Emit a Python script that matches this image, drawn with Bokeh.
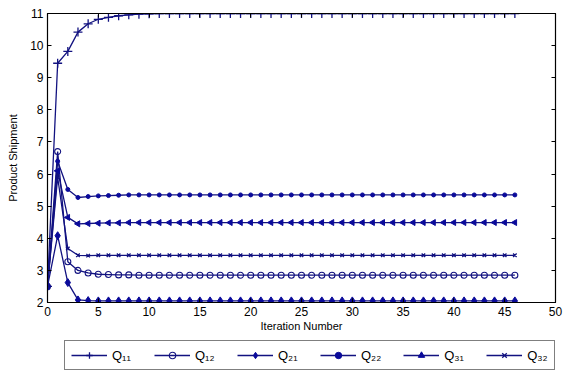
from bokeh.plotting import figure
from bokeh.models import Legend, LegendItem, LinearAxis, FixedTicker, Range1d
from bokeh.layouts import column
from bokeh.embed import file_html
from bokeh.resources import INLINE
import math

iterations = list(range(47))
q11 = [2.5, 9.45, 9.82, 10.42, 10.68, 10.82, 10.88, 10.93, 10.96, 10.98, 10.99,
       11.0, 11.0, 11.0, 11.0, 11.0, 11.0, 11.0, 11.0, 11.0, 11.0, 11.0, 11.0, 11.0,
       11.0, 11.0, 11.0, 11.0, 11.0, 11.0, 11.0, 11.0, 11.0, 11.0, 11.0, 11.0, 11.0,
       11.0, 11.0, 11.0, 11.0, 11.0, 11.0, 11.0, 11.0, 11.0, 11.0]
q12 = [2.5, 6.7, 3.27, 3.0, 2.92, 2.88, 2.87, 2.86, 2.86, 2.85, 2.85,
       2.85, 2.85, 2.85, 2.85, 2.85, 2.85, 2.85, 2.85, 2.85, 2.85, 2.85, 2.85, 2.85,
       2.85, 2.85, 2.85, 2.85, 2.85, 2.85, 2.85, 2.85, 2.85, 2.85, 2.85, 2.85, 2.85,
       2.85, 2.85, 2.85, 2.85, 2.85, 2.85, 2.85, 2.85, 2.85, 2.85]
q21 = [2.5, 4.08, 2.62, 2.08, 2.06, 2.05, 2.05, 2.05, 2.05, 2.05, 2.05,
       2.05, 2.05, 2.05, 2.05, 2.05, 2.05, 2.05, 2.05, 2.05, 2.05, 2.05, 2.05, 2.05,
       2.05, 2.05, 2.05, 2.05, 2.05, 2.05, 2.05, 2.05, 2.05, 2.05, 2.05, 2.05, 2.05,
       2.05, 2.05, 2.05, 2.05, 2.05, 2.05, 2.05, 2.05, 2.05, 2.05]
q22 = [2.5, 6.4, 5.52, 5.27, 5.3, 5.32, 5.33, 5.34, 5.35, 5.35, 5.35,
       5.35, 5.35, 5.35, 5.35, 5.35, 5.35, 5.35, 5.35, 5.35, 5.35, 5.35, 5.35, 5.35,
       5.35, 5.35, 5.35, 5.35, 5.35, 5.35, 5.35, 5.35, 5.35, 5.35, 5.35, 5.35, 5.35,
       5.35, 5.35, 5.35, 5.35, 5.35, 5.35, 5.35, 5.35, 5.35, 5.35]
q31 = [2.5, 6.1, 4.65, 4.45, 4.46, 4.47, 4.48, 4.48, 4.49, 4.49, 4.49,
       4.49, 4.49, 4.49, 4.49, 4.49, 4.49, 4.49, 4.49, 4.49, 4.49, 4.49, 4.49, 4.49,
       4.49, 4.49, 4.49, 4.49, 4.49, 4.49, 4.49, 4.49, 4.49, 4.49, 4.49, 4.49, 4.49,
       4.49, 4.49, 4.49, 4.49, 4.49, 4.49, 4.49, 4.49, 4.49, 4.49]
q32 = [2.5, 5.9, 3.68, 3.47, 3.46, 3.47, 3.47, 3.47, 3.47, 3.47, 3.47,
       3.47, 3.47, 3.47, 3.47, 3.47, 3.47, 3.47, 3.47, 3.47, 3.47, 3.47, 3.47, 3.47,
       3.47, 3.47, 3.47, 3.47, 3.47, 3.47, 3.47, 3.47, 3.47, 3.47, 3.47, 3.47, 3.47,
       3.47, 3.47, 3.47, 3.47, 3.47, 3.47, 3.47, 3.47, 3.47, 3.47]
labels = ["Q\u2081\u2081", "Q\u2081\u2082", "Q\u2082\u2081", "Q\u2082\u2082", "Q\u2083\u2081", "Q\u2083\u2082"]
x_ticks = [0, 5, 10, 15, 20, 25, 30, 35, 40, 45, 50]
y_ticks = [2, 3, 4, 5, 6, 7, 8, 9, 10, 11]

LINE = "#121280"
MARK = "#0a0a9a"
FONT = "Liberation Sans"

p = figure(width=563, height=340, output_backend="svg", toolbar_location=None,
           x_range=Range1d(0, 50), y_range=Range1d(2, 11),
           min_border_left=47, min_border_right=8, min_border_top=13, min_border_bottom=38,
           x_axis_label="Iteration Number", y_axis_label="Product Shipment")
p.xgrid.visible = False
p.ygrid.visible = False
p.outline_line_color = "black"
p.outline_line_width = 1.2
p.background_fill_color = "white"
p.border_fill_color = "white"

p.xaxis.ticker = FixedTicker(ticks=x_ticks)
p.yaxis.ticker = FixedTicker(ticks=y_ticks)
for ax in (p.xaxis[0], p.yaxis[0]):
    ax.major_tick_in = 4
    ax.major_tick_out = 0
    ax.minor_tick_line_color = None
    ax.axis_line_color = "black"
    ax.major_tick_line_color = "black"
    ax.major_label_text_font = FONT
    ax.major_label_text_font_size = "12px"
    ax.major_label_text_color = "black"
    ax.axis_label_text_font = FONT
    ax.axis_label_text_font_size = "11px"
    ax.axis_label_text_font_style = "normal"
    ax.axis_label_text_color = "black"
p.xaxis.major_label_standoff = 4
p.xaxis.axis_label_standoff = 1
p.yaxis.major_label_standoff = 4
p.yaxis.axis_label_standoff = 8

for side, ticks in (("right", y_ticks), ("above", x_ticks)):
    ax = LinearAxis(ticker=FixedTicker(ticks=ticks), major_tick_in=4, major_tick_out=0,
                    minor_tick_line_color=None,
                    major_label_overrides={t: "" for t in ticks},
                    axis_line_color="black", major_tick_line_color="black")
    p.add_layout(ax, side)

# legend strip below the chart; its ranges exclude the data so only the legend shows
lf = figure(width=563, height=31, output_backend="svg", toolbar_location=None,
            x_range=Range1d(100, 101), y_range=Range1d(100, 101),
            min_border_left=0, min_border_right=0, min_border_top=0, min_border_bottom=0)
lf.axis.visible = False
lf.xgrid.visible = False
lf.ygrid.visible = False
lf.outline_line_color = None
lf.background_fill_color = "white"
lf.border_fill_color = "white"


def add_series(fig, xs, ys, i):
    ln = fig.line(xs, ys, line_color=LINE, line_width=1.3)
    if i == 0:
        mk = fig.scatter(xs, ys, marker="cross", size=9, line_color=LINE, line_width=1.3)
    elif i == 1:
        mk = fig.scatter(xs, ys, marker="circle", size=6, line_color=LINE,
                         fill_color=None, line_width=1.1)
    elif i == 2:
        mk = fig.scatter(xs, ys, marker="diamond", size=8, line_color=MARK,
                         fill_color=MARK, line_width=1)
    elif i == 3:
        mk = fig.scatter(xs, ys, marker="circle", size=4, line_color=MARK,
                         fill_color=MARK)
    elif i == 4:
        mk = fig.scatter(xs, ys, marker="triangle", angle=math.pi / 2, size=6,
                         line_color=MARK, fill_color=MARK, line_width=1)
    else:
        mk = fig.scatter(xs, ys, marker="x", size=5, line_color=LINE, line_width=1.3)
    return ln, mk


series = [q11, q12, q21, q22, q31, q32]
items = []
for i, (ys, lab) in enumerate(zip(series, labels)):
    add_series(p, iterations, ys, i)
    ln, mk = add_series(lf, iterations, ys, i)
    items.append(LegendItem(label=lab, renderers=[ln, mk]))

legend = Legend(items=items, orientation="horizontal", location=(17, 1),
                border_line_color="black", border_line_width=1.2,
                background_fill_color="white", background_fill_alpha=1,
                label_text_font=FONT, label_text_font_size="13px",
                label_text_color="black",
                glyph_width=36, glyph_height=16, label_standoff=5, spacing=22,
                padding=6, margin=0)
lf.add_layout(legend)

open("out.html", "w").write(file_html(column(p, lf, spacing=0), INLINE))
